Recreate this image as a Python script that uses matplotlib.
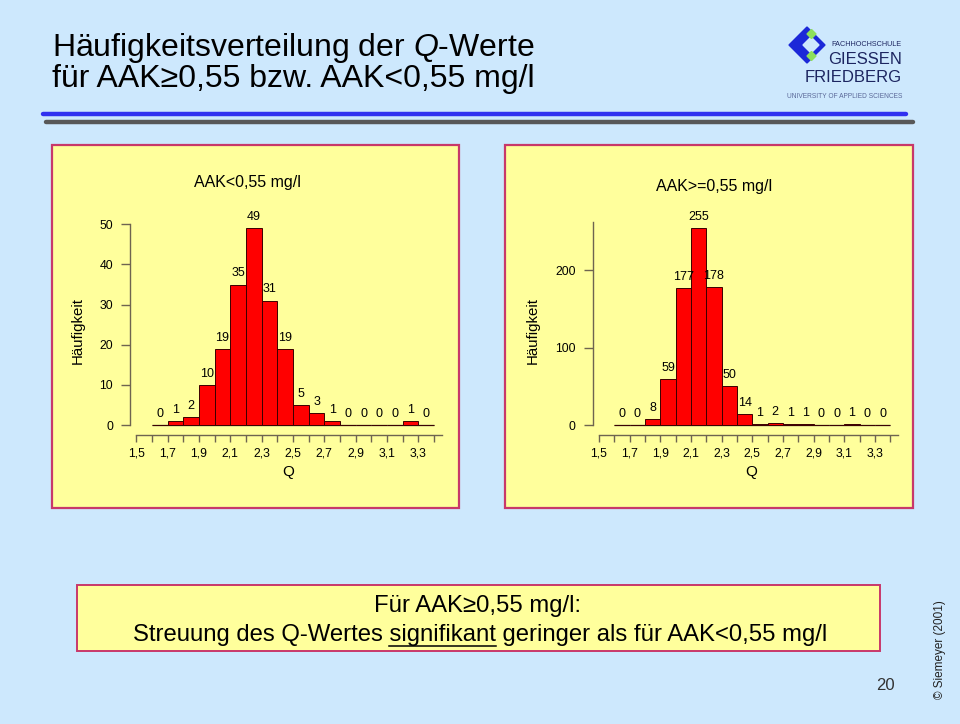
import matplotlib
matplotlib.use("Agg")
import matplotlib.pyplot as plt
from matplotlib.patches import Rectangle, Polygon
from matplotlib.lines import Line2D
from matplotlib.ticker import FixedLocator, FixedFormatter, NullFormatter

plt.rcParams['font.family'] = ['Liberation Sans', 'DejaVu Sans']
plt.rcParams['mathtext.fontset'] = 'custom'
plt.rcParams['mathtext.rm'] = 'Liberation Sans'
plt.rcParams['mathtext.it'] = 'Liberation Sans:italic'

# ---------------- data ----------------
bin_left = [1.6, 1.7, 1.8, 1.9, 2.0, 2.1, 2.2, 2.3, 2.4, 2.5,
            2.6, 2.7, 2.8, 2.9, 3.0, 3.1, 3.2, 3.3]
counts_low = [0, 1, 2, 10, 19, 35, 49, 31, 19, 5, 3, 1, 0, 0, 0, 0, 1, 0]
counts_high = [0, 0, 8, 59, 177, 255, 178, 50, 14, 1, 2, 1, 1, 0, 0, 1, 0, 0]
q_major = [1.5, 1.7, 1.9, 2.1, 2.3, 2.5, 2.7, 2.9, 3.1, 3.3]
q_major_labels = ['1,5', '1,7', '1,9', '2,1', '2,3', '2,5', '2,7', '2,9', '3,1', '3,3']
q_minor = [1.6, 1.8, 2.0, 2.2, 2.4, 2.6, 2.8, 3.0, 3.2, 3.4]
yticks_low = [0, 10, 20, 30, 40, 50]
yticks_high = [0, 100, 200]

# ---------------- layout ----------------
W, H = 960, 724
fig = plt.figure(figsize=(W / 100, H / 100), dpi=100)
BG = '#cde8fd'
fig.patch.set_facecolor(BG)
AX_COL = '#6e6450'
BORDER = '#c8386a'
PANEL = '#ffff9c'


def fx(px):
    return px / W


def fy(py):
    return 1 - py / H


def frect(x0, y0, x1, y1, **kw):
    fig.add_artist(Rectangle((fx(x0), fy(y1)), fx(x1) - fx(x0), fy(y0) - fy(y1),
                             transform=fig.transFigure, zorder=-1, **kw))


def fline(x0, y0, x1, y1, **kw):
    fig.add_artist(Line2D([fx(x0), fx(x1)], [fy(y0), fy(y1)], transform=fig.transFigure, **kw))


def ftext(x, y, s, **kw):
    return fig.text(fx(x), fy(y), s, **kw)


# title
ftext(52, 48, 'Häufigkeitsverteilung der $\\mathit{Q}$-Werte', fontsize=23, va='center', ha='left')
ftext(52, 79, 'für AAK≥0,55 bzw. AAK<0,55 mg/l', fontsize=23, va='center', ha='left')
fline(43, 114, 906, 114, color='#3030f0', lw=3.2, solid_capstyle='round')
fline(46, 122, 913, 122, color='#585858', lw=3.2, solid_capstyle='round')

# logo
fig.add_artist(Polygon([[fx(789), fy(45)], [fx(807), fy(27)], [fx(825), fy(45)], [fx(807), fy(63)]],
                       closed=True, transform=fig.transFigure, color='#1c28d8'))
fig.add_artist(Polygon([[fx(803), fy(45)], [fx(811), fy(37)], [fx(819), fy(45)], [fx(811), fy(53)]],
                       closed=True, transform=fig.transFigure, color=BG))
for cy in (34, 56):
    fig.add_artist(Polygon([[fx(807), fy(cy)], [fx(811.5), fy(cy - 4.5)], [fx(816), fy(cy)], [fx(811.5), fy(cy + 4.5)]],
                           closed=True, transform=fig.transFigure, color='#8ee05a'))
ftext(902, 44, 'FACHHOCHSCHULE', fontsize=5.2, ha='right', va='center', color='#1c2560')
ftext(902, 60, 'GIESSEN', fontsize=12, ha='right', va='center', color='#1c2560')
ftext(902, 78, 'FRIEDBERG', fontsize=12, ha='right', va='center', color='#1c2560')
ftext(902, 97, 'UNIVERSITY OF APPLIED SCIENCES', fontsize=4.8, ha='right', va='center', color='#5a6898')

# panels
frect(52, 145, 459, 508, facecolor=PANEL, edgecolor=BORDER, lw=1.6)
frect(505, 145, 913, 508, facecolor=PANEL, edgecolor=BORDER, lw=1.6)

ZERO_PX = 425


def histogram(box, x15_px, px_per_q, px_per_count, counts, yticks, ytop, title, title_xy, ylabel_xy, xlabel_xy):
    left, top, right, bottom = box
    ax = fig.add_axes([fx(left), fy(bottom), fx(right) - fx(left), fy(top) - fy(bottom)])
    ax.set_zorder(3)
    ax.set_xlim(1.5 + (left - x15_px) / px_per_q, 1.5 + (right - x15_px) / px_per_q)
    ax.set_ylim((ZERO_PX - bottom) / px_per_count, (ZERO_PX - top) / px_per_count)
    ax.patch.set_visible(False)
    ax.bar(bin_left, counts, width=0.1, align='edge', color='#ff0000',
           edgecolor='#3a0000', linewidth=0.7, zorder=3)
    ax.hlines(0, bin_left[0], bin_left[-1] + 0.1, color=AX_COL, lw=1.0, zorder=2)
    for xl, c in zip(bin_left, counts):
        ax.annotate(str(c), (xl + 0.05, c), xytext=(0, 8), textcoords='offset points',
                    ha='center', va='center', fontsize=9, color='black')
    for s in ('top', 'right'):
        ax.spines[s].set_visible(False)
    ax.spines['left'].set_position(('data', 1.5 - 6 / px_per_q))
    ax.spines['left'].set_bounds(0, ytop)
    ax.spines['bottom'].set_position(('data', -10 / px_per_count))
    ax.spines['bottom'].set_bounds(1.5, 3.45)
    for s in ('left', 'bottom'):
        ax.spines[s].set_color(AX_COL)
        ax.spines[s].set_linewidth(1.0)
    ax.yaxis.set_major_locator(FixedLocator(yticks))
    ax.xaxis.set_major_locator(FixedLocator(q_major))
    ax.xaxis.set_major_formatter(FixedFormatter(q_major_labels))
    ax.xaxis.set_minor_locator(FixedLocator(q_minor))
    ax.xaxis.set_minor_formatter(NullFormatter())
    ax.tick_params(axis='y', direction='out', length=6.5, width=1.0, color=AX_COL,
                   labelsize=8.8, pad=6, labelcolor='black')
    ax.tick_params(axis='x', which='both', direction='out', length=5, width=1.0, color=AX_COL,
                   labelsize=8.8, pad=4, labelcolor='black')
    ftext(*title_xy, title, fontsize=11.5, ha='center', va='center')
    ftext(*ylabel_xy, 'Häufigkeit', fontsize=10.8, ha='center', va='center', rotation=90)
    ftext(*xlabel_xy, 'Q', fontsize=11, ha='center', va='center')
    return ax


histogram((95, 195, 455, 470), 136.3, 156.7, 4.014, counts_low, yticks_low, 50,
          'AAK<0,55 mg/l', (247, 183), (78, 330), (288, 472))
histogram((555, 195, 910, 470), 599.0, 153.3, 0.7735, counts_high, yticks_high, 262,
          'AAK>=0,55 mg/l', (714, 187), (533, 330), (751, 472))

# bottom box
FS = 17.2
frect(77, 585, 880, 651, facecolor=PANEL, edgecolor=BORDER, lw=1.4)
ftext(478, 606, 'Für AAK≥0,55 mg/l:', fontsize=FS, ha='center', va='center')
pre = 'Streuung des Q-Wertes '
word = 'signifikant'
post = ' geringer als für AAK<0,55 mg/l'
full = ftext(480, 635, pre + word + post, fontsize=FS, ha='center', va='center')
fig.canvas.draw()
r = fig.canvas.get_renderer()
bb = full.get_window_extent(r)
tmp1 = ftext(0, 0, pre.rstrip() + ' ', fontsize=FS)
tmp2 = ftext(0, 0, pre + word, fontsize=FS)
w1 = tmp1.get_window_extent(r).width
w2 = tmp2.get_window_extent(r).width
tmp1.remove()
tmp2.remove()
x_start = bb.x0 + w1
x_end = bb.x0 + w2
fline(x_start, 646, x_end, 646, color='black', lw=1.1)

ftext(885, 686, '20', fontsize=12, ha='center', va='center', color='#333333')
ftext(940, 650, '© Siemeyer (2001)', fontsize=8.5, ha='center', va='center', rotation=90, color='#222222')

fig.savefig('out.png', dpi=100, facecolor=fig.get_facecolor())
